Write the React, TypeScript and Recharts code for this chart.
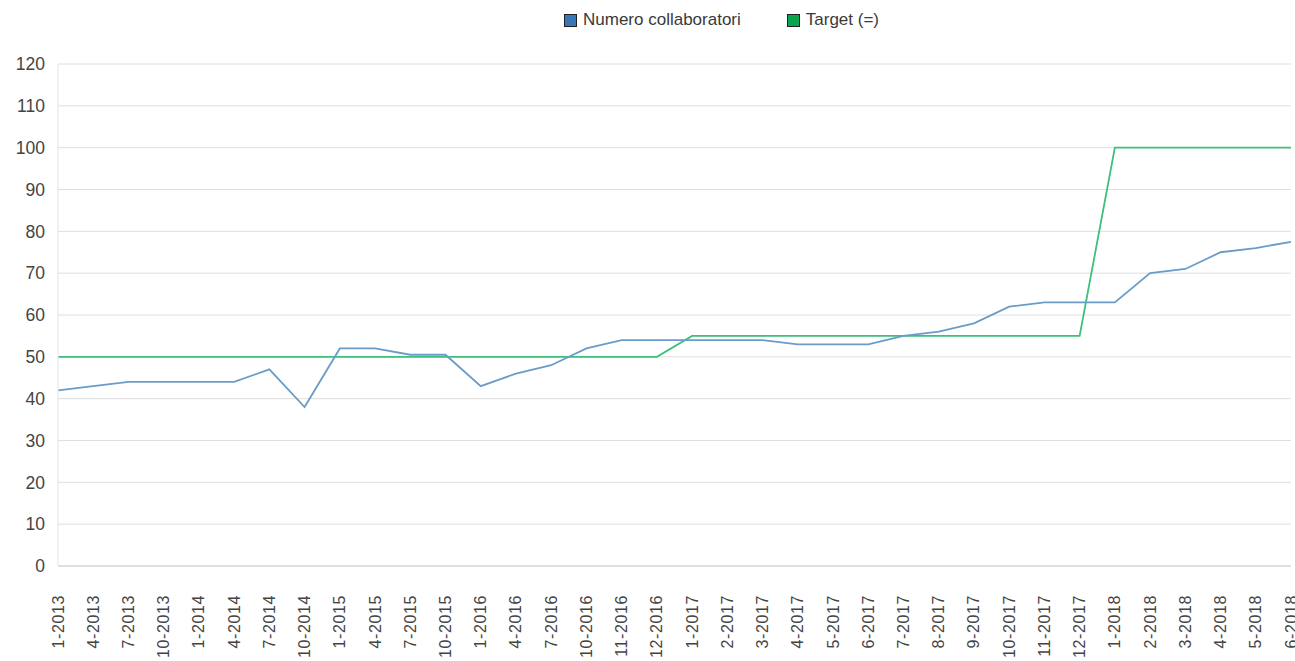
import React from 'react';
import { LineChart, Line, XAxis, YAxis, CartesianGrid, Legend } from 'recharts';

const months = [
  '1-2013', '4-2013', '7-2013', '10-2013', '1-2014', '4-2014', '7-2014', '10-2014',
  '1-2015', '4-2015', '7-2015', '10-2015', '1-2016', '4-2016', '7-2016', '10-2016',
  '11-2016', '12-2016', '1-2017', '2-2017', '3-2017', '4-2017', '5-2017', '6-2017',
  '7-2017', '8-2017', '9-2017', '10-2017', '11-2017', '12-2017', '1-2018', '2-2018',
  '3-2018', '4-2018', '5-2018', '6-2018',
];

const collaboratori = [
  42, 43, 44, 44, 44, 44, 47, 38,
  52, 52, 50.5, 50.5, 43, 46, 48, 52,
  54, 54, 54, 54, 54, 53, 53, 53,
  55, 56, 58, 62, 63, 63, 63, 70,
  71, 75, 76, 77.5,
];

const target = [
  50, 50, 50, 50, 50, 50, 50, 50,
  50, 50, 50, 50, 50, 50, 50, 50,
  50, 50, 55, 55, 55, 55, 55, 55,
  55, 55, 55, 55, 55, 55, 100, 100,
  100, 100, 100, 100,
];

const yTicks = [0, 10, 20, 30, 40, 50, 60, 70, 80, 90, 100, 110, 120];

const data = months.map((m, i) => ({ month: m, collaboratori: collaboratori[i], target: target[i] }));

const FONT = '"Liberation Sans", Arial, sans-serif';

const XTick = (props: any) => {
  const { x, y, payload } = props;
  return (
    <text
      x={x}
      y={y + 21}
      transform={`rotate(-90, ${x}, ${y + 21})`}
      textAnchor="end"
      dominantBaseline="central"
      fontFamily={FONT}
      fontSize={16}
      letterSpacing={0.6}
      fill="#444"
    >
      {payload.value}
    </text>
  );
};

const legendItems = [
  { label: 'Numero collaboratori', color: '#3a78b5' },
  { label: 'Target (=)', color: '#0aa54f' },
];

const LegendContent = () => (
  <div style={{ display: 'flex', justifyContent: 'center', gap: 46, fontFamily: FONT, fontSize: 17, color: '#3a3a3a', paddingLeft: 148 }}>
    {legendItems.map((it) => (
      <div key={it.label} style={{ display: 'flex', alignItems: 'center', gap: 6 }}>
        <span style={{ width: 11, height: 11, background: it.color, border: '1.5px solid #222', display: 'inline-block' }} />
        <span>{it.label}</span>
      </div>
    ))}
  </div>
);

export default function App() {
  return (
    <div style={{ position: 'absolute', left: 0, top: 0, width: 1295, height: 661, background: '#fff', overflow: 'hidden' }}>
      <LineChart width={1295} height={661} data={data} margin={{ top: 44, right: 4, bottom: 0, left: 0 }}>
        <Legend verticalAlign="top" height={20} content={<LegendContent />} wrapperStyle={{ top: 10, left: 0, width: 1295 }} />
        <CartesianGrid horizontal vertical={false} stroke="#dedede" strokeWidth={1} />
        <XAxis
          dataKey="month"
          interval={0}
          height={95}
          tick={<XTick />}
          tickLine={false}
          axisLine={{ stroke: '#cfcfcf' }}
        />
        <YAxis
          domain={[0, 120]}
          ticks={yTicks}
          width={58}
          tickLine={false}
          tickSize={0}
          tickMargin={13}
          axisLine={{ stroke: '#e4e4e4' }}
          tick={{ fontFamily: FONT, fontSize: 17.5, fill: '#444' }}
        />
        <Line
          type="linear"
          dataKey="target"
          stroke="#3cc07a"
          strokeWidth={1.8}
          dot={false}
          isAnimationActive={false}
          legendType="none"
        />
        <Line
          type="linear"
          dataKey="collaboratori"
          stroke="#6a9cc9"
          strokeWidth={1.8}
          dot={false}
          isAnimationActive={false}
          legendType="none"
        />
      </LineChart>
    </div>
  );
}
